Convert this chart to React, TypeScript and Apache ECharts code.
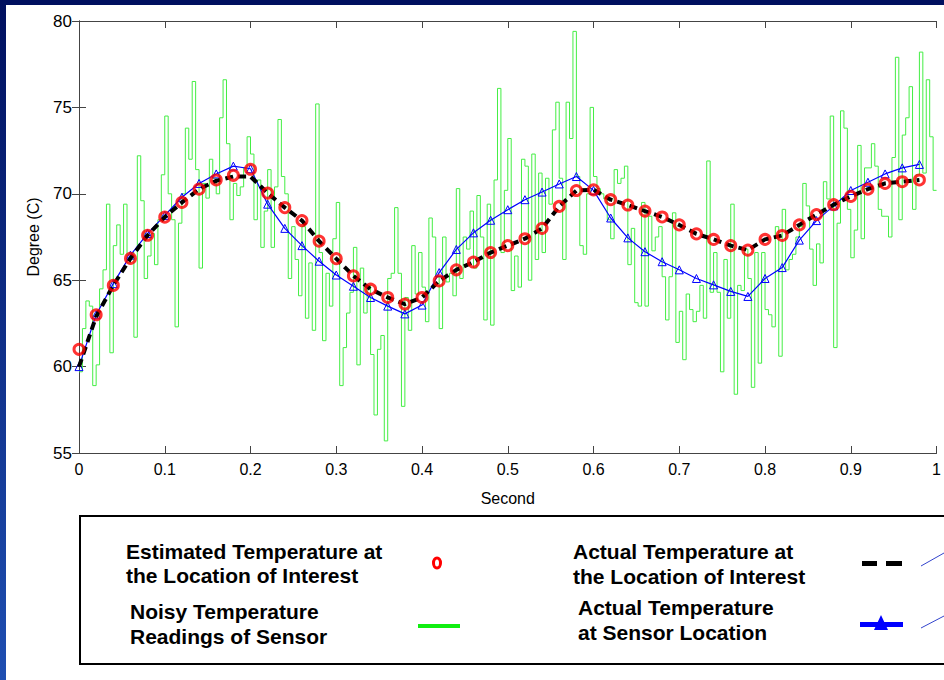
import React, { useEffect, useRef } from "react";
import * as echarts from "echarts";

// time spacing of the model points and of the sensor samples (seconds)
const MODEL_DT = 0.02;
const SENSOR_DT = 0.004;

// Estimated temperature at the location of interest (red circles)
const estimated = [
  61.0, 63.0, 64.7, 66.26, 67.6, 68.65, 69.5, 70.27, 70.8, 71.07,
  71.42, 70.04, 69.2, 68.45, 67.26, 66.25, 65.25, 64.48, 64.0, 63.62,
  64.0, 64.96, 65.6, 66.05, 66.6, 67.0, 67.4, 68.0, 69.27, 70.19,
  70.23, 69.66, 69.35, 69.0, 68.66, 68.2, 67.68, 67.36, 67.0, 66.74,
  67.36, 67.59, 68.2, 68.8, 69.37, 69.85, 70.27, 70.6, 70.7, 70.8,
];

// Actual temperature at the location of interest (black dashed)
const actualInterest = [
  60.0, 62.9, 64.7, 66.26, 67.6, 68.65, 69.5, 70.27, 70.75, 71.0,
  71.0, 70.04, 69.2, 68.45, 67.26, 66.25, 65.25, 64.48, 64.0, 63.62,
  64.0, 64.96, 65.6, 66.05, 66.6, 67.0, 67.4, 68.0, 69.27, 70.19,
  70.23, 69.66, 69.35, 69.0, 68.66, 68.2, 67.68, 67.36, 67.0, 66.74,
  67.36, 67.59, 68.2, 68.8, 69.37, 69.85, 70.27, 70.6, 70.7, 70.8,
];

// Actual temperature at sensor location (blue triangles)
const actualSensor = [
  60.0, 63.0, 64.8, 66.45, 67.7, 68.75, 69.8, 70.6, 71.15, 71.6,
  71.45, 69.4, 68.0, 67.0, 66.1, 65.3, 64.65, 64.0, 63.5, 63.05,
  63.56, 65.44, 66.78, 67.74, 68.47, 69.08, 69.66, 70.1, 70.57, 71.0,
  70.2, 68.6, 67.45, 66.65, 66.07, 65.6, 65.1, 64.73, 64.35, 64.06,
  65.1, 65.73, 67.32, 68.45, 69.3, 70.19, 70.67, 71.15, 71.5, 71.7,
];

// Noisy temperature readings of sensor (green stairs)
const noisyReadings = [
  59.7, 62.2, 63.8, 63.5, 58.9, 60.1, 64.5, 65.6, 69.4, 60.8,
  67.0, 68.2, 66.5, 69.4, 66.0, 66.6, 61.7, 72.2, 69.6, 65.1,
  66.4, 67.7, 65.9, 68.5, 71.1, 74.5, 70.0, 68.5, 62.3, 68.3,
  70.0, 73.8, 72.0, 76.5, 71.4, 65.7, 70.6, 69.75, 72.0, 70.9,
  70.0, 74.4, 76.6, 72.9, 68.5, 70.6, 69.9, 70.4, 71.5, 73.3,
  72.3, 68.5, 70.8, 66.9, 69.0, 71.4, 66.9, 70.4, 74.3, 71.0,
  70.0, 65.1, 68.1, 66.2, 64.1, 68.1, 62.8, 66.0, 62.1, 75.2,
  66.6, 61.5, 65.4, 63.5, 67.4, 69.5, 58.9, 61.1, 63.1, 64.3,
  66.9, 60.1, 65.7, 63.1, 64.7, 60.7, 57.2, 61.0, 61.8, 55.7,
  65.1, 65.4, 69.2, 65.4, 57.7, 64.0, 62.1, 67.0, 64.2, 66.6,
  64.6, 62.6, 68.6, 67.5, 65.2, 62.2, 67.5, 64.9, 65.4, 64.1,
  70.3, 65.1, 67.5, 66.8, 69.0, 65.7, 69.9, 67.5, 62.7, 69.4,
  62.4, 70.8, 76.1, 66.6, 70.2, 73.2, 64.4, 66.4, 64.6, 72.0,
  71.6, 65.0, 72.3, 66.2, 71.2, 66.6, 70.9, 69.4, 73.7, 75.3,
  70.9, 66.2, 75.3, 73.2, 79.4, 71.0, 67.0, 66.5, 70.0, 75.0,
  71.0, 70.3, 70.0, 69.7, 68.5, 67.4, 71.4, 70.6, 70.9, 71.6,
  65.9, 68.0, 63.7, 63.5, 69.5, 63.5, 68.7, 66.7, 67.5, 68.1,
  65.2, 62.7, 65.2, 68.9, 61.4, 63.2, 60.4, 64.2, 63.3, 62.6,
  63.2, 64.7, 62.8, 71.9, 64.3, 66.6, 64.3, 59.7, 66.2, 62.8,
  69.4, 58.4, 64.7, 64.4, 66.8, 65.1, 58.8, 66.6, 60.2, 66.6,
  63.3, 63.0, 62.3, 68.1, 60.6, 69.1, 65.6, 66.2, 66.5, 67.5,
  68.1, 70.6, 69.3, 66.8, 64.7, 67.1, 66.0, 70.7, 69.7, 74.5,
  61.1, 68.3, 74.8, 73.8, 69.1, 66.3, 67.9, 72.8, 67.4, 71.5,
  71.5, 72.9, 71.6, 69.1, 68.7, 68.7, 67.5, 72.1, 77.9, 68.5,
  73.4, 74.4, 76.2, 69.1, 71.1, 78.2, 71.2, 76.6, 73.3, 70.2,
];

const xMin = 0;
const xMax = 1;
const xInterval = 0.1;
const yMin = 55;
const yMax = 80;
const yInterval = 5;

const xName = "Second";
const yName = "Degree (C)";

const legendEstimated = ["Estimated Temperature at", "the Location of Interest"];
const legendNoisy = ["Noisy Temperature", "Readings of Sensor"];
const legendActualInterest = ["Actual Temperature at", "the Location of Interest"];
const legendActualSensor = ["Actual Temperature", "at Sensor Location"];

const FONT = '"Liberation Sans", Arial, Helvetica, sans-serif';

function modelPoints(vals: number[]) {
  return vals.map((v, i) => [+(i * MODEL_DT).toFixed(3), v]);
}
function sensorPoints(vals: number[]) {
  const pts = vals.map((v, i) => [+(i * SENSOR_DT).toFixed(4), v]);
  pts.push([+(vals.length * SENSOR_DT).toFixed(4), vals[vals.length - 1]]);
  return pts;
}

const axisLineStyle = { color: "#444", width: 1 };

function legendText(lines: string[], x: number, y0: number, dy: number) {
  return lines.map((t, i) => ({
    type: "text",
    x,
    y: y0 + i * dy,
    silent: true,
    style: {
      text: t,
      fontSize: 21,
      fontWeight: "bold",
      fontFamily: FONT,
      fill: "#000",
      align: "left",
      verticalAlign: "middle",
    },
  }));
}

export default function App() {
  const ref = useRef<HTMLDivElement>(null);

  useEffect(() => {
    if (!ref.current) return;
    const chart = echarts.init(ref.current, null, { renderer: "svg" });

    const option: any = {
      animation: false,
      backgroundColor: "#ffffff",
      grid: { left: 79, top: 21, width: 865, height: 432, containLabel: false },
      xAxis: [
        {
          type: "value",
          position: "bottom",
          min: xMin,
          max: xMax,
          interval: xInterval,
          name: xName,
          nameLocation: "middle",
          nameGap: 37,
          nameTextStyle: { fontSize: 16, fontFamily: FONT, color: "#000" },
          axisLine: { show: true, lineStyle: axisLineStyle },
          axisTick: { show: true, inside: true, length: 7, lineStyle: axisLineStyle },
          axisLabel: {
            fontSize: 16,
            fontFamily: FONT,
            color: "#000",
            margin: 8,
            formatter: (v: number) => String(Math.round(v * 10) / 10),
          },
          splitLine: { show: false },
        },
        {
          type: "value",
          position: "top",
          min: xMin,
          max: xMax,
          interval: xInterval,
          axisLine: { show: true, lineStyle: axisLineStyle },
          axisTick: { show: true, inside: true, length: 7, lineStyle: axisLineStyle },
          axisLabel: { show: false },
          splitLine: { show: false },
        },
      ],
      yAxis: [
        {
          type: "value",
          position: "left",
          min: yMin,
          max: yMax,
          interval: yInterval,
          name: yName,
          nameLocation: "middle",
          nameGap: 38,
          nameRotate: 90,
          nameTextStyle: { fontSize: 16, fontFamily: FONT, color: "#000" },
          axisLine: { show: true, lineStyle: axisLineStyle },
          axisTick: { show: true, inside: true, length: 7, lineStyle: axisLineStyle },
          axisLabel: { fontSize: 17, fontFamily: FONT, color: "#000", margin: 7 },
          splitLine: { show: false },
        },
        {
          type: "value",
          position: "right",
          min: yMin,
          max: yMax,
          interval: yInterval,
          axisLine: { show: true, lineStyle: axisLineStyle },
          axisTick: { show: true, inside: true, length: 7, lineStyle: axisLineStyle },
          axisLabel: { show: false },
          splitLine: { show: false },
        },
      ],
      series: [
        {
          name: "Noisy Temperature Readings of Sensor",
          type: "line",
          step: "end",
          data: sensorPoints(noisyReadings),
          showSymbol: false,
          symbol: "none",
          lineStyle: { color: "#44ee44", width: 1 },
          z: 2,
        },
        {
          name: "Actual Temperature at Sensor Location",
          type: "line",
          data: modelPoints(actualSensor),
          symbol: "triangle",
          symbolSize: 8,
          showAllSymbol: true,
          itemStyle: { color: "rgba(0,0,0,0)", borderColor: "#0000ff", borderWidth: 1 },
          lineStyle: { color: "#0000ff", width: 1.2 },
          z: 3,
        },
        {
          name: "Actual Temperature at the Location of Interest",
          type: "line",
          data: modelPoints(actualInterest),
          symbol: "none",
          lineStyle: { color: "#000000", width: 4, type: [8, 5] },
          z: 4,
        },
        {
          name: "Estimated Temperature at the Location of Interest",
          type: "scatter",
          data: modelPoints(estimated),
          symbol: "circle",
          symbolSize: 10,
          itemStyle: { color: "rgba(0,0,0,0)", borderColor: "#ff0000", borderWidth: 3 },
          z: 5,
        },
      ],
      graphic: [
        {
          type: "rect",
          silent: true,
          shape: { x: 0, y: 0, width: 944, height: 5 },
          style: { fill: "#00105f" },
        },
        {
          type: "rect",
          silent: true,
          shape: { x: 0, y: 0, width: 6, height: 680 },
          style: {
            fill: new echarts.graphic.LinearGradient(0, 0, 0, 1, [
              { offset: 0, color: "#00105f" },
              { offset: 1, color: "#1f4fb2" },
            ]),
          },
        },
        {
          type: "rect",
          silent: true,
          shape: { x: 80, y: 516, width: 900, height: 148 },
          style: { fill: "#ffffff", stroke: "#000000", lineWidth: 2 },
        },
        ...legendText(legendEstimated, 126, 551, 24),
        ...legendText(legendNoisy, 130, 611, 25),
        ...legendText(legendActualInterest, 573, 551, 25),
        ...legendText(legendActualSensor, 578, 607, 25),
        {
          type: "ellipse",
          silent: true,
          shape: { cx: 437, cy: 563, rx: 3.5, ry: 5 },
          style: { fill: "none", stroke: "#ff0000", lineWidth: 3 },
        },
        {
          type: "rect",
          silent: true,
          shape: { x: 418, y: 624, width: 42, height: 4 },
          style: { fill: "#11ee11" },
        },
        {
          type: "rect",
          silent: true,
          shape: { x: 862, y: 561, width: 15, height: 5 },
          style: { fill: "#000000" },
        },
        {
          type: "rect",
          silent: true,
          shape: { x: 886, y: 561, width: 16, height: 5 },
          style: { fill: "#000000" },
        },
        {
          type: "rect",
          silent: true,
          shape: { x: 860, y: 622, width: 43, height: 5 },
          style: { fill: "#0000ff" },
        },
        {
          type: "polygon",
          silent: true,
          shape: { points: [[881, 615], [874, 630], [888, 630]] },
          style: { fill: "#0000ff" },
        },
        {
          type: "line",
          silent: true,
          shape: { x1: 921, y1: 566, x2: 944, y2: 553 },
          style: { stroke: "#3344cc", lineWidth: 1 },
        },
        {
          type: "line",
          silent: true,
          shape: { x1: 921, y1: 628, x2: 944, y2: 616 },
          style: { stroke: "#3344cc", lineWidth: 1 },
        },
      ],
    };

    chart.setOption(option);
    return () => chart.dispose();
  }, []);

  return (
    <div
      ref={ref}
      style={{ position: "absolute", left: 0, top: 0, width: 944, height: 680, background: "#fff" }}
    />
  );
}
